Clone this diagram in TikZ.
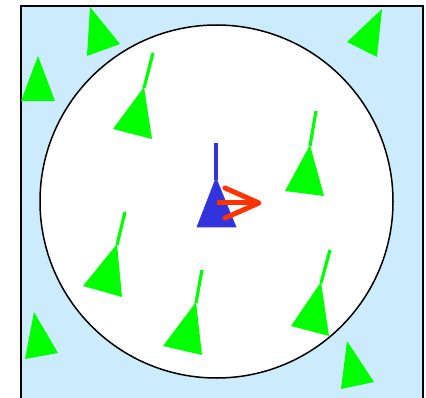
\documentclass[tikz,border=0pt]{standalone}
\usepackage{tikz}

\definecolor{skyfill}{HTML}{CCEBFC}
\definecolor{agentgreen}{HTML}{00FF00}
\definecolor{focalblue}{HTML}{3333DD}
\definecolor{headred}{HTML}{FF3300}

\begin{document}
\begin{tikzpicture}[
  x = 1pt, y = -1pt,
  arena/.style = {fill=skyfill, draw=black, line width=1.8pt},
  zone/.style = {fill=white, draw=black, line width=1.5pt},
  other/.style = {fill=agentgreen},
  othertail/.style = {draw=agentgreen, line width=3.2pt},
  focal/.style = {fill=focalblue, draw=focalblue, line width=0.6pt},
  focaltail/.style = {draw=focalblue, line width=3.2pt},
  heading/.style = {draw=headred, line width=5pt, line cap=round, line join=round}
]

\useasboundingbox (0,0) rectangle (426,398);
\clip (0,0) rectangle (426,398);

% arena and neighbourhood
\draw[arena] (21,6) rectangle (423,420);
\draw[zone] (216.5,201.5) circle (176.5);

% agents outside the zone
\fill[other] (90,7) -- (120,44) -- (87,56) -- cycle;
\fill[other] (38,56) -- (21,101) -- (55,101) -- cycle;
\fill[other] (382,9) -- (347,42) -- (377,57) -- cycle;
\fill[other] (34,312) -- (25,359) -- (58,353) -- cycle;
\fill[other] (347,341) -- (341,389) -- (374,382) -- cycle;

% agents inside the zone
\draw[othertail] (153,53) -- (144,88);
\fill[other] (144,87) -- (113,129) -- (152,139) -- cycle;

\draw[othertail] (316,111) -- (310,146);
\fill[other] (310,145) -- (285,191) -- (324,196) -- cycle;

\draw[othertail] (125,212) -- (117,245);
\fill[other] (117,244) -- (83,286) -- (122,297) -- cycle;

\draw[othertail] (202,270) -- (196,303);
\fill[other] (196,302) -- (163,346) -- (202,355) -- cycle;

\draw[othertail] (330,250) -- (321,283);
\fill[other] (321,282) -- (291,326) -- (329,336) -- cycle;

% focal agent
\draw[focaltail] (216,143) -- (216,180);
\filldraw[focal] (216,178) -- (197,227) -- (236,227) -- cycle;

% heading
\draw[heading, line cap=butt] (217,203) -- (258,203);
\draw[heading] (225,188) -- (259,203) -- (225,218);

\end{tikzpicture}
\end{document}
